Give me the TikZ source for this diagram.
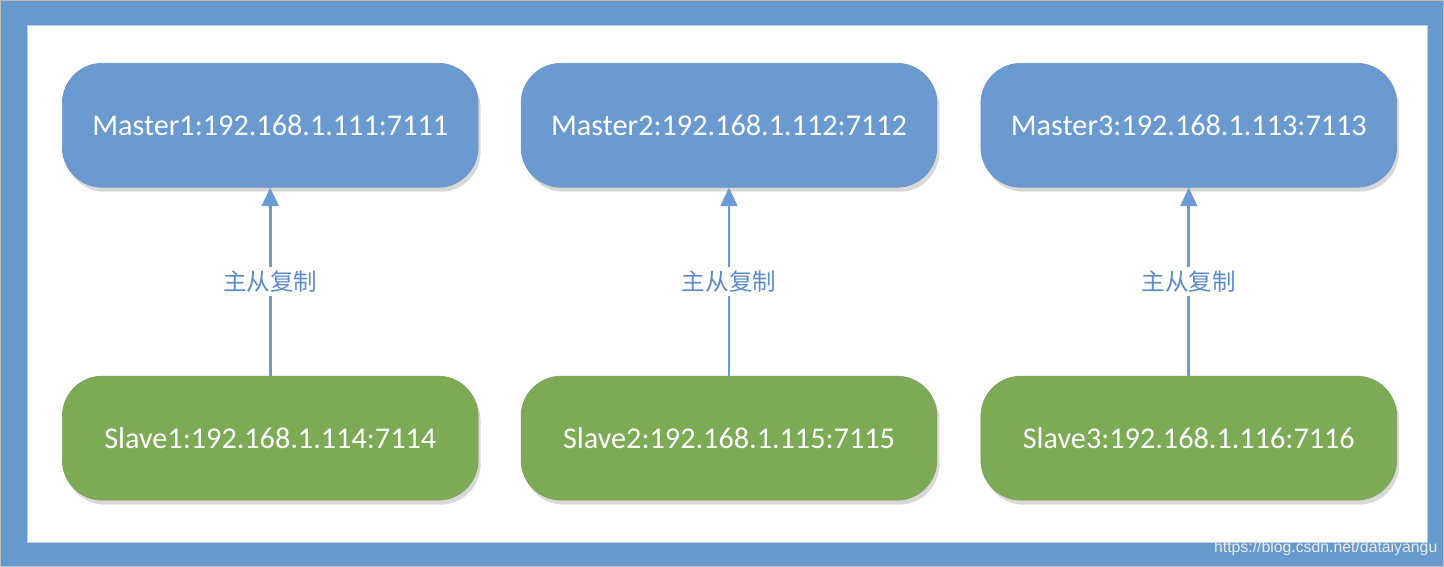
\documentclass[tikz,border=0pt]{standalone}
\usepackage{fontspec}
\setmainfont{Carlito}
\newfontfamily\cjk{Noto Sans CJK SC}
\newfontfamily\wmfont{Liberation Sans}
\usepackage{tikz}
\usetikzlibrary{arrows.meta,shadows}
\definecolor{frame}{HTML}{6699CC}
\definecolor{mfill}{HTML}{6A9AD0}
\definecolor{sfill}{HTML}{7DAA55}
\definecolor{link}{HTML}{6A9BD3}
\definecolor{ltext}{HTML}{5B8CC8}
\tikzset{
  box/.style={rounded corners=0.8cm, minimum width=8.32cm, minimum height=2.48cm,
    text=white, font=\fontsize{17.2}{20}\selectfont, inner sep=0pt,
    drop shadow={shadow xshift=0.05cm, shadow yshift=-0.09cm, opacity=0.3, fill=black!50}},
  master/.style={box, fill=mfill, draw=mfill!80!gray, line width=0.4pt},
  slave/.style={box, fill=sfill, draw=sfill!80!gray, line width=0.4pt},
  repl/.style={draw=link, line width=1.6pt, -{Triangle[width=9.5pt,length=10.5pt]}},
  rlabel/.style={fill=white, text=ltext, font=\cjk\fontsize{13.4}{15}\selectfont, inner sep=2pt}
}

\begin{document}
\begin{tikzpicture}[x=0.02cm,y=-0.02cm]
  % frame
  \fill[frame, draw=gray!50, line width=0.4pt] (0,0) rectangle (1444,566);
  \fill[white, draw=gray!40, line width=0.6pt] (27,25) rectangle (1428,542);
  \useasboundingbox (0,0) rectangle (1444,566);

  % masters
  \node[master] (m1) at (270,125) {Master1:192.168.1.111:7111};
  \node[master] (m2) at (729,125) {Master2:192.168.1.112:7112};
  \node[master] (m3) at (1189,125) {Master3:192.168.1.113:7113};

  % slaves
  \node[slave] (s1) at (270,438) {Slave1:192.168.1.114:7114};
  \node[slave] (s2) at (729,438) {Slave2:192.168.1.115:7115};
  \node[slave] (s3) at (1189,438) {Slave3:192.168.1.116:7116};

  \draw[repl] (s1) -- node[rlabel]{主从复制} (m1);
  \draw[repl] (s2) -- node[rlabel]{主从复制} (m2);
  \draw[repl] (s3) -- node[rlabel]{主从复制} (m3);

  \node[text=white!85!gray, font=\wmfont\fontsize{9}{11}\selectfont, anchor=east, inner sep=0pt] (wm) at (1438,548) {https://blog.csdn.net/dataiyangu};
\end{tikzpicture}
\end{document}
